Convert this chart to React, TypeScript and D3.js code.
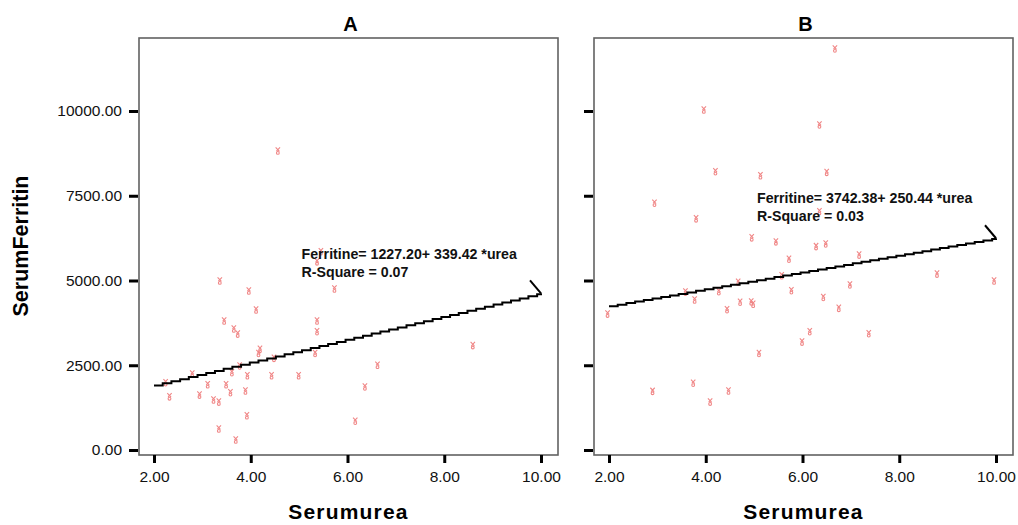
import React, { useEffect, useRef } from 'react';
import * as d3 from 'd3';

// panel A: urea (x) vs ferritin (y)
const ureaA = [4.56, 5.45, 5.37, 3.36, 3.96, 5.73, 4.11, 3.45, 5.37, 3.65, 3.73, 5.37, 4.19, 4.16, 5.33, 4.48, 3.77, 2.79, 3.61, 3.93, 4.43, 4.99, 2.24, 3.11, 3.49, 2.32, 2.94, 3.58, 3.89, 3.23, 3.34, 3.92, 3.34, 3.69, 6.62, 6.36, 6.16, 8.59];
const ferritinA = [8820, 5850, 5550, 4985, 4690, 4750, 4130, 3805, 3805, 3570, 3420, 3490, 2970, 2850, 2850, 2705, 2480, 2240, 2280, 2190, 2190, 2190, 1985, 1925, 1925, 1570, 1620, 1690, 1740, 1475, 1415, 1010, 620, 295, 2500, 1860, 850, 3080];

// panel B
const ureaB = [3.96, 4.20, 5.13, 2.94, 3.80, 6.67, 6.35, 6.50, 6.35, 4.95, 5.45, 5.72, 5.57, 5.77, 4.67, 3.58, 4.27, 3.77, 4.71, 4.94, 4.98, 4.44, 1.97, 5.10, 2.90, 3.74, 4.47, 4.09, 6.28, 6.48, 7.17, 6.98, 6.43, 6.75, 8.78, 9.96, 6.15, 5.99, 7.37];
const ferritinB = [10030, 8210, 8090, 7280, 6820, 11830, 9590, 8190, 7030, 6260, 6140, 5630, 5140, 4700, 4950, 4660, 4670, 4425, 4360, 4370, 4300, 4140, 4010, 2850, 1730, 1970, 1740, 1415, 6000, 6080, 5750, 4870, 4500, 4180, 5190, 4985, 3490, 3185, 3430];

const panelTitles = ['A', 'B'];
const intercepts = [1227.2, 3742.38];
const slopes = [339.42, 250.44];
const rSquares = ['0.07', '0.03'];
const equationLabels = ['Ferritine= 1227.20+ 339.42 *urea', 'Ferritine= 3742.38+ 250.44 *urea'];
const labelAnchorX = [5.05, 5.06];
const labelAnchorY = [5634, 7290];

const xTicks = [2, 4, 6, 8, 10];
const yTicks = [0, 2500, 5000, 7500, 10000];

const W = 1018;
const H = 525;
const FONT = '"Liberation Sans", Arial, sans-serif';

const panelLeft = [139, 594];
const frameW = 419;
const frameTop = 38;
const frameBottom = 455;

const y = d3.scaleLinear().domain([0, 10000]).range([450, 111]);

const markerPath = 'M-2.2,-3.6 L1.6,0.4 M2.2,-3.6 L-1.4,0.2';

const Panel = ({ idx, xs, ys }: { idx: number; xs: number[]; ys: number[] }) => {
  const xAxisRef = useRef<SVGGElement>(null);
  const yAxisRef = useRef<SVGGElement>(null);
  const left = panelLeft[idx];
  const x = d3.scaleLinear().domain([2, 10]).range([left + 15, left + 402]);

  useEffect(() => {
    const xa = d3.select(xAxisRef.current!);
    xa.call(d3.axisBottom(x).tickValues(xTicks).tickSize(8).tickPadding(8).tickFormat((d) => (+d).toFixed(2)) as any);
    xa.select('.domain').remove();
    xa.selectAll('line').attr('stroke', '#000').attr('stroke-width', 3);
    xa.selectAll('text').attr('font-family', FONT).attr('font-size', 15.5).attr('fill', '#111');

    const ya = d3.select(yAxisRef.current!);
    ya.call(d3.axisLeft(y).tickValues(yTicks).tickSize(9).tickPadding(7)
      .tickFormat((d) => (idx === 0 ? (+d).toFixed(2) : '')) as any);
    ya.select('.domain').remove();
    ya.selectAll('line').attr('stroke', '#000').attr('stroke-width', 3);
    ya.selectAll('text').attr('font-family', FONT).attr('font-size', 15.5).attr('fill', '#111');
  }, [idx]);

  // fitted line, drawn stepped like the original export
  const a = intercepts[idx];
  const b = slopes[idx];
  const fitU = d3.range(2, 10.0001, 0.18).concat([10]);
  const fitLine = d3.line<number>()
    .x((u) => x(u))
    .y((u) => y(a + b * u))
    .curve(d3.curveStepAfter)(fitU);
  const ex = x(10);
  const ey = y(a + b * 10);

  const lx = x(labelAnchorX[idx]);
  const ly = y(labelAnchorY[idx]);

  return (
    <g>
      <rect x={left} y={frameTop} width={frameW} height={frameBottom - frameTop} fill="#fff" stroke="#626262" strokeWidth={1.6} />
      <text x={left + frameW / 2 + 2} y={31} textAnchor="middle" fontFamily={FONT} fontWeight="bold" fontSize={20}>
        {panelTitles[idx]}
      </text>
      <g ref={xAxisRef} transform={`translate(0,${frameBottom})`} />
      <g ref={yAxisRef} transform={`translate(${left - 1},0)`} />
      <g>
        {xs.map((u, i) => (
          <g key={i} transform={`translate(${x(u)},${y(ys[i])})`} stroke="#f08686" strokeWidth={1.1} fill="none">
            <path d={markerPath} />
            <circle cx={0} cy={1.9} r={1.4} />
          </g>
        ))}
      </g>
      <path d={fitLine || ''} fill="none" stroke="#000" strokeWidth={2} />
      <path d={`M${ex},${ey} L${ex - 11},${ey - 13}`} fill="none" stroke="#000" strokeWidth={2} />
      <g fontFamily={FONT} fontWeight="bold" fontSize={14.2} fill="#111">
        <text x={lx} y={ly}>{equationLabels[idx]}</text>
        <text x={lx} y={ly + 18}>{`R-Square = ${rSquares[idx]}`}</text>
      </g>
      <text x={left + frameW / 2} y={519} textAnchor="middle" fontFamily={FONT} fontWeight="bold" fontSize={21} letterSpacing={1.2}>
        Serumurea
      </text>
    </g>
  );
};

export default function App() {
  return (
    <svg width={W} height={H} style={{ position: 'absolute', left: 0, top: 0, background: '#fff' }}>
      <Panel idx={0} xs={ureaA} ys={ferritinA} />
      <Panel idx={1} xs={ureaB} ys={ferritinB} />
      <text transform="translate(28,246) rotate(-90)" textAnchor="middle" fontFamily={FONT} fontWeight="bold" fontSize={21.5}>
        SerumFerritin
      </text>
    </svg>
  );
}
